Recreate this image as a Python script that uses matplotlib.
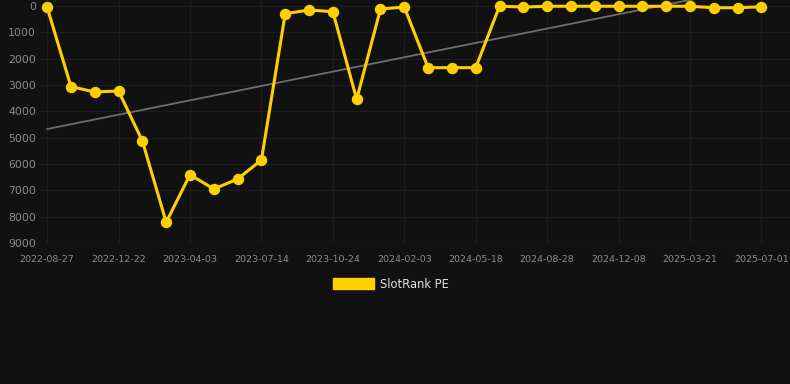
import matplotlib
matplotlib.use("Agg")
import matplotlib.pyplot as plt
import numpy as np

tick_labels = ["2022-08-27", "2022-12-22", "2023-04-03", "2023-07-14", "2023-10-24",
               "2024-02-03", "2024-05-18", "2024-08-28", "2024-12-08", "2025-03-21",
               "2025-07-01"]
ranks = [50, 3060, 3265, 3228, 5126, 8215, 6405, 6950, 6570, 5848,
         291, 152, 215, 3544, 114, 40, 2342, 2342, 2342, 5,
         40, 10, 10, 10, 10, 10, 10, 10, 65, 65, 30]
series_name = "SlotRank PE"

bg = "#111111"
gold = "#ffd000"

fig = plt.figure(figsize=(7.9, 3.84), dpi=100, facecolor=bg)
ax = fig.add_axes([40/790, 1 - 243/384, 750/790, 243/384], facecolor=bg)

x = np.arange(len(ranks))
ax.plot(x, ranks, color=gold, lw=2.2, marker="o", ms=7.2, mec=gold, mfc=gold,
        clip_on=False, zorder=3, label=series_name)

coef = np.polyfit(x, ranks, 1)
ax.plot(x, np.polyval(coef, x), color="#6e6e6e", lw=1.3, zorder=2)

ax.set_xlim(-0.3, 31.2)
ax.set_ylim(9000, -228)
ax.set_yticks(range(0, 9001, 1000))
ax.set_xticks(x[::3])
ax.set_xticklabels(tick_labels)
ax.grid(True, color="#1d1d1d", lw=0.8)
ax.axhline(9000, color="#2a2a2a", lw=0.8, zorder=1)
ax.set_axisbelow(True)
for s in ax.spines.values():
    s.set_visible(False)
ax.tick_params(axis="y", length=0, pad=3, labelsize=7.8, labelcolor="#8c8c8c")
ax.tick_params(axis="x", length=0, pad=8.5, labelsize=6.8, labelcolor="#8c8c8c")

leg = fig.legend(handles=[plt.Rectangle((0, 0), 1, 1, color=gold)], labels=[series_name],
                 loc="center", bbox_to_anchor=(391/790, 1 - 284/384), frameon=False,
                 handlelength=3.6, handleheight=1.0, handletextpad=0.5,
                 fontsize=8.3, labelcolor="#e0e0e0")

fig.savefig("out.png", dpi=100, facecolor=bg)
